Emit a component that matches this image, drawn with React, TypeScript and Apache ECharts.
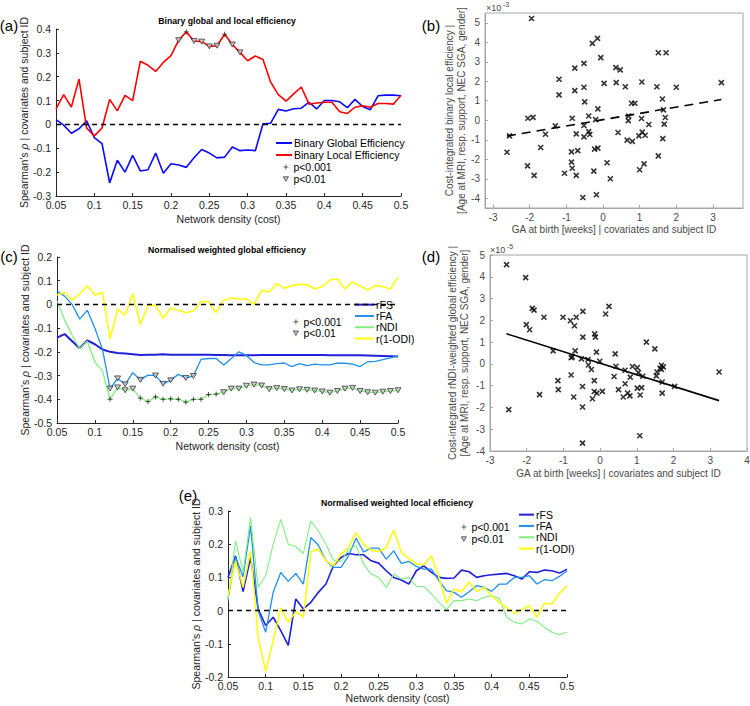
import React, { useEffect, useRef } from 'react';
import * as echarts from 'echarts';

const FF = "'Liberation Sans', Arial, Helvetica, sans-serif";

// network density (cost) categories
const density = [0.05,0.06,0.07,0.08,0.09,0.1,0.11,0.12,0.13,0.14,0.15,0.16,0.17,0.18,0.19,0.2,0.21,0.22,0.23,0.24,0.25,0.26,0.27,0.28,0.29,0.3,0.31,0.32,0.33,0.34,0.35,0.36,0.37,0.38,0.39,0.4,0.41,0.42,0.43,0.44,0.45,0.46,0.47,0.48,0.49,0.5];

// (a) binary global / local efficiency
const aGlobal = [0.02,-0.003,-0.037,-0.018,0.015,-0.055,-0.08,-0.245,-0.15,-0.2,-0.13,-0.195,-0.19,-0.12,-0.205,-0.165,-0.17,-0.18,-0.14,-0.105,-0.12,-0.14,-0.137,-0.095,-0.11,-0.107,-0.11,0.003,0.005,0.063,0.056,0.066,0.068,0.093,0.065,0.1,0.1,0.095,0.07,0.105,0.075,0.062,0.12,0.123,0.123,0.12];
const aLocal = [0.065,0.125,0.073,0.19,-0.015,-0.048,-0.015,0.105,0.057,0.122,0.1,0.265,0.248,0.222,0.26,0.288,0.353,0.388,0.35,0.347,0.327,0.33,0.378,0.335,0.302,0.267,0.287,0.272,0.177,0.125,0.098,0.128,0.157,0.085,0.09,0.093,0.093,0.053,0.046,0.072,0.078,0.072,0.088,0.088,0.085,0.122];
const aLocalP001 = [0.22,0.27];
const aLocalP01 = [0.21,0.23,0.24,0.25,0.26,0.28,0.29];

// (c) normalised weighted global efficiency
const cFS = [-0.14,-0.125,-0.155,-0.185,-0.152,-0.168,-0.19,-0.2,-0.205,-0.207,-0.21,-0.213,-0.212,-0.212,-0.21,-0.212,-0.212,-0.212,-0.212,-0.212,-0.212,-0.213,-0.213,-0.214,-0.214,-0.214,-0.214,-0.213,-0.213,-0.213,-0.213,-0.213,-0.213,-0.213,-0.213,-0.213,-0.214,-0.214,-0.214,-0.214,-0.214,-0.215,-0.216,-0.217,-0.218,-0.22];
const cFA = [0.057,0.035,0.0,-0.062,-0.025,-0.1,-0.19,-0.355,-0.312,-0.337,-0.288,-0.318,-0.298,-0.3,-0.335,-0.32,-0.295,-0.31,-0.302,-0.232,-0.228,-0.228,-0.255,-0.228,-0.2,-0.215,-0.245,-0.255,-0.255,-0.25,-0.247,-0.262,-0.25,-0.258,-0.252,-0.255,-0.255,-0.248,-0.248,-0.252,-0.262,-0.242,-0.24,-0.233,-0.225,-0.217];
const cNDI = [0.015,-0.065,-0.13,-0.187,-0.155,-0.243,-0.28,-0.4,-0.35,-0.362,-0.355,-0.395,-0.41,-0.39,-0.4,-0.398,-0.4,-0.412,-0.4,-0.4,-0.38,-0.378,-0.37,-0.355,-0.355,-0.343,-0.338,-0.342,-0.357,-0.353,-0.357,-0.363,-0.358,-0.36,-0.363,-0.367,-0.372,-0.365,-0.355,-0.352,-0.365,-0.37,-0.372,-0.368,-0.365,-0.362];
const cODI = [0.04,0.05,0.018,0.045,0.078,0.04,0.05,-0.145,-0.02,-0.045,0.045,-0.085,-0.005,-0.003,-0.058,-0.015,-0.025,-0.035,-0.028,0.012,0.012,-0.035,0.017,0.027,0.023,0.023,0.0,0.06,0.052,0.088,0.068,0.08,0.085,0.083,0.066,0.074,0.103,0.107,0.065,0.095,0.078,0.06,0.08,0.075,0.065,0.115];
const cFAP01 = [0.12,0.13,0.14,0.16,0.18,0.19,0.2,0.22,0.23];
const cNDIP001 = [0.12,0.16,0.17,0.18,0.19,0.2,0.21,0.22,0.23,0.24,0.25,0.26];
const cNDIP01 = [0.13,0.14,0.15,0.27,0.28,0.29,0.3,0.31,0.32,0.33,0.34,0.35,0.36,0.37,0.38,0.39,0.4,0.41,0.42,0.43,0.44,0.45,0.46,0.47,0.48,0.49,0.5];

// (e) normalised weighted local efficiency
const eFS = [0.1,0.165,0.057,0.16,0.005,-0.045,-0.02,-0.06,-0.105,0.035,0.005,0.025,0.055,0.08,0.135,0.16,0.172,0.168,0.168,0.15,0.143,0.12,0.1,0.092,0.08,0.12,0.135,0.115,0.1,0.097,0.098,0.122,0.117,0.1,0.105,0.108,0.11,0.112,0.105,0.095,0.117,0.115,0.122,0.12,0.113,0.125];
const eFA = [0.035,0.162,0.102,0.255,0.0,-0.065,0.055,0.115,0.088,0.112,0.08,0.22,0.197,0.15,0.13,0.13,0.165,0.218,0.177,0.188,0.188,0.155,0.18,0.142,0.148,0.133,0.125,0.125,0.09,0.06,0.055,0.04,0.057,0.075,0.07,0.058,0.08,0.08,0.1,0.1,0.105,0.08,0.093,0.09,0.103,0.12];
const eNDI = [0.03,0.21,0.115,0.28,0.07,0.105,0.2,0.275,0.2,0.193,0.172,0.27,0.24,0.2,0.152,0.148,0.185,0.195,0.14,0.11,0.1,0.07,0.11,0.095,0.1,0.073,0.072,0.05,0.025,0.003,0.03,0.03,0.035,0.03,0.04,0.045,0.037,-0.02,-0.035,-0.04,-0.025,-0.032,-0.05,-0.065,-0.073,-0.065];
const eODI = [0.045,0.15,0.07,0.18,-0.08,-0.183,-0.09,0.008,-0.035,-0.003,-0.02,0.178,0.185,0.15,0.135,0.17,0.19,0.235,0.2,0.182,0.178,0.19,0.243,0.175,0.158,0.14,0.138,0.165,0.1,0.022,0.065,0.057,0.087,0.058,0.07,0.045,0.025,0.008,-0.008,0.003,0.015,-0.02,0.022,0.02,0.052,0.075];

// (b) scatter: GA at birth vs cost-integrated binary local efficiency (x1e-3)
const bX = [-1.95,-0.29,-0.15,-0.77,-0.52,-0.06,-1.2,-1.2,-0.77,-0.52,0.03,0.36,0.35,0.47,0.61,1.06,1.51,1.72,1.47,2.0,3.23,1.62,1.65,1.7,1.67,1.63,1.51,0.78,0.87,0.7,0.69,1.05,1.25,0.41,0.66,0.8,0.98,1.07,1.15,1.12,1.0,0.11,0.2,-0.5,-0.14,-0.39,-0.2,-0.52,-0.84,-1.3,-0.73,-0.39,-0.36,-0.52,-0.14,-0.23,-0.69,-0.86,-0.86,-0.84,-0.73,-1.05,-0.25,-0.55,-0.18,-1.7,-2.05,-1.91,-1.57,-2.55,-2.62,-2.06,-1.88];
const bY = [5.22,3.94,4.2,2.67,2.92,3.21,2.1,1.3,1.52,1.69,1.89,1.93,2.7,2.58,1.72,1.96,3.46,3.46,1.72,1.69,1.93,1.09,0.53,0.14,-0.2,-0.94,-1.83,0.87,0.87,0.22,-0.02,0.09,-0.22,-0.63,-1.02,-1.08,-0.8,-0.61,-0.77,-2.24,-2.54,-2.18,-3.0,0.94,0.58,0.22,0.03,-0.27,0.1,-0.29,-0.7,-0.58,-0.73,-0.85,-1.43,-1.48,-1.56,-1.62,-2.15,-2.46,-2.83,-2.72,-2.61,-3.96,-3.82,-1.4,0.1,0.15,-0.72,-0.8,-1.64,-2.34,-2.83];
const bFitSlope = 0.32;
const bFitIntercept = 0.03;

// (d) scatter: GA at birth vs cost-integrated rNDI-weighted global efficiency (x1e-5)
const dX = [-2.55,-2.03,-1.85,-1.8,-1.53,-2.01,-1.92,-2.49,-1.65,-1.28,-1.01,-0.81,-0.65,-0.7,-0.47,-0.47,-0.68,-0.79,-0.76,-0.51,-0.33,-0.32,-0.24,-0.15,-0.13,-0.1,-0.01,-0.16,-0.79,-1.15,-1.14,-0.72,-0.48,-0.48,-0.48,-0.16,-0.09,-0.21,0.06,0.15,0.24,0.41,0.43,0.38,0.5,0.63,0.68,0.68,0.75,0.81,0.82,0.88,1.01,1.04,1.01,1.13,1.09,1.16,1.08,1.26,1.49,1.55,1.53,1.63,1.67,1.72,1.67,1.69,1.69,2.03,3.24];
const dY = [4.56,3.96,2.55,2.47,2.14,1.8,1.57,-2.1,-1.41,0.6,2.14,1.98,2.14,1.75,2.41,1.23,0.6,0.28,0.32,0.23,0.2,-0.05,-0.26,1.38,1.23,0.54,0.12,-0.77,-0.51,-0.77,-1.18,-1.52,-1.04,-1.98,-3.64,-1.27,-1.34,-1.6,-1.26,2.29,2.64,0.46,-0.11,-0.58,-1.18,-1.52,-0.29,-0.91,-1.34,-1.47,-0.61,-0.12,-0.17,-0.4,-1.11,-1.09,-1.43,-0.57,-3.3,1.0,0.69,-0.37,-0.55,-0.2,-0.06,-0.14,-0.26,-0.83,-1.34,-1.03,-0.37];
const dFitSlope = -0.53;
const dFitIntercept = 0.03;

const lineTicksB = [-3,-2,-1,0,1,2,3];
const yTicksB = [-4,-3,-2,-1,0,1,2,3,4,5];

const PLUS = 'path://M5,0L5,10M0,5L10,5';
const TRI = 'path://M0,0L10,0L5,9Z';
const CROSS = 'path://M0,0L10,10M10,0L0,10';

const COL = {
  blue: '#0a0aff', red: '#ff0000', fs: '#2020dc', fa: '#1f8ff2', ndi: '#80f080', odi: '#ffff00'
};

const pairs = (vals: number[]) => vals.map((v, i) => [density[i], v]);
const pick = (xs: number[], vals: number[]) =>
  xs.map((x) => {
    const i = density.findIndex((d) => Math.abs(d - x) < 1e-9);
    return [x, vals[i]];
  });
const zip = (xs: number[], ys: number[]) => xs.map((x, i) => [x, ys[i]]);
const fitLine = (xs: number[], slope: number, icpt: number) => {
  const lo = Math.min(...xs), hi = Math.max(...xs);
  return [[lo, slope * lo + icpt], [hi, slope * hi + icpt]];
};

const AX = '#262626';
const SPEAR = "Spearman's {i|ρ} | covariates and subject ID";

function densityAxis(gridIndex: number, gap: number) {
  return {
    type: 'value', gridIndex, min: 0.05, max: 0.5, interval: 0.05,
    name: 'Network density (cost)', nameLocation: 'middle', nameGap: gap,
    nameTextStyle: { fontSize: 10.5, color: AX, fontFamily: FF },
    axisLine: { onZero: false, lineStyle: { color: AX, width: 1 } },
    axisTick: { inside: true, length: 3, lineStyle: { color: AX } },
    axisLabel: { fontSize: 10.5, color: AX, fontFamily: FF, margin: 3 },
    splitLine: { show: false },
  };
}
function rhoAxis(gridIndex: number, min: number, max: number, gap: number) {
  return {
    type: 'value', gridIndex, min, max, interval: 0.1,
    name: SPEAR, nameLocation: 'middle', nameGap: gap,
    nameTextStyle: {
      fontSize: 10.5, color: AX, fontFamily: FF,
      rich: { i: { fontSize: 10.5, color: AX, fontFamily: FF, fontStyle: 'italic' } },
    },
    axisLine: { onZero: false, lineStyle: { color: AX, width: 1 } },
    axisTick: { inside: true, length: 3, lineStyle: { color: AX } },
    axisLabel: { fontSize: 10.5, color: AX, fontFamily: FF, margin: 5 },
    splitLine: { show: false },
  };
}
const BOX = '#a6a6a6';
const LBL = '#4a4a4a';
function scatterAxis(gridIndex: number, min: number, max: number, ticks: number[] | null, name: string, gap: number, vertical: boolean) {
  const ax: any = {
    type: 'value', gridIndex, min, max,
    name, nameLocation: 'middle', nameGap: gap,
    nameTextStyle: { fontSize: 10, color: LBL, fontFamily: FF, lineHeight: 12 },
    axisLine: { onZero: false, lineStyle: { color: BOX, width: 1 } },
    axisTick: { inside: true, length: 3, lineStyle: { color: BOX } },
    axisLabel: { fontSize: 10, color: LBL, fontFamily: FF, margin: vertical ? 5 : 4 },
    splitLine: { show: false },
  };
  if (ticks) {
    ax.axisLabel.customValues = ticks;
    ax.axisTick.customValues = ticks;
  } else {
    ax.interval = 1;
  }
  return ax;
}

function zeroLine() {
  return {
    silent: true, symbol: ['none', 'none'],
    label: { show: false },
    lineStyle: { type: [5, 4], color: '#000', width: 1.4 },
    data: [{ yAxis: 0 }],
  };
}

function lineSeries(name: string, vals: number[], color: string, width: number, g: number, extra: any = {}) {
  return {
    type: 'line', name, xAxisIndex: g, yAxisIndex: g, data: pairs(vals),
    symbol: 'none', lineStyle: { color, width }, itemStyle: { color },
    emphasis: { disabled: true }, z: 3, ...extra,
  };
}
function markerSeries(name: string, data: number[][], g: number, kind: 'plus' | 'tri') {
  return {
    type: 'scatter', name, xAxisIndex: g, yAxisIndex: g, data,
    symbol: kind === 'plus' ? PLUS : TRI,
    symbolSize: kind === 'plus' ? [5, 5] : [6, 5],
    itemStyle: kind === 'plus'
      ? { color: 'rgba(0,0,0,0)', borderColor: '#111', borderWidth: 0.9 }
      : { color: '#c4c4c4', borderColor: '#111', borderWidth: 0.8 },
    emphasis: { disabled: true }, z: 5,
  };
}

function txt(text: string, x: number, y: number, font: string, align = 'center', fill = '#000') {
  return { type: 'text', x, y, silent: true, style: { text, font, fill, align, verticalAlign: 'middle' } };
}

const lineLegend = (left: number, top: number, names: string[], width: number, lh: number, bg = 'transparent') => ({
  left, top, orient: 'vertical', itemWidth: width, itemHeight: 2, itemGap: 0, padding: [0, 2, 0, 0],
  backgroundColor: bg,
  data: names.map((n) => ({ name: n, icon: 'rect' })), selectedMode: false,
  textStyle: { fontSize: 10.5, color: '#000', fontFamily: FF, lineHeight: lh, padding: [0, 0, 0, -3] },
});
const pLegend = (left: number, top: number, lh: number) => ({
  left, top, orient: 'vertical', itemWidth: 5, itemHeight: 5, itemGap: 0, padding: 0,
  selectedMode: false,
  data: [{ name: 'p<0.001', icon: PLUS }, { name: 'p<0.01', icon: TRI }],
  itemStyle: { borderWidth: 0.8 },
  textStyle: { fontSize: 10.5, color: '#000', fontFamily: FF, lineHeight: lh },
});

export default function App() {
  const ref = useRef<HTMLDivElement>(null);
  useEffect(() => {
    if (!ref.current) return;
    const chart = echarts.init(ref.current, undefined, { renderer: 'svg' });
    const option: any = {
      animation: false,
      backgroundColor: '#fff',
      textStyle: { fontFamily: FF },
      grid: [
        { left: 56, top: 29, width: 345, height: 167, containLabel: false, outerBoundsMode: 'none' },
        { left: 485, top: 13, width: 258, height: 195, containLabel: false, outerBoundsMode: 'none', show: true, borderColor: BOX, borderWidth: 1, backgroundColor: 'transparent' },
        { left: 57, top: 257, width: 341, height: 166, containLabel: false, outerBoundsMode: 'none' },
        { left: 490, top: 255, width: 257, height: 196, containLabel: false, outerBoundsMode: 'none', show: true, borderColor: BOX, borderWidth: 1, backgroundColor: 'transparent' },
        { left: 228, top: 511, width: 339, height: 166, containLabel: false, outerBoundsMode: 'none' },
      ],
      xAxis: [
        densityAxis(0, 17),
        scatterAxis(1, -3.22, 3.82, lineTicksB, 'GA at birth [weeks] | covariates and subject ID', 15, false),
        densityAxis(2, 17),
        scatterAxis(3, -3, 4, null, 'GA at birth [weeks] | covariates and subject ID', 16, false),
        densityAxis(4, 15),
      ],
      yAxis: [
        rhoAxis(0, -0.3, 0.4, 22),
        scatterAxis(1, -4.5, 5.5, yTicksB, 'Cost-integrated binary local efficiency |\n[Age at MRI, resp. support, NEC SGA, gender]', 17, true),
        rhoAxis(2, -0.5, 0.2, 23),
        scatterAxis(3, -4, 5, null, 'Cost-integrated rNDI-weighted global efficiency |\n[Age at MRI, resp. support, NEC SGA, gender]', 20, true),
        rhoAxis(4, -0.2, 0.3, 20),
      ],
      legend: [
        lineLegend(276, 137, ['Binary Global Efficiency', 'Binary Local Efficiency'], 16, 12),
        pLegend(283, 161, 12),
        lineLegend(355, 299, ['rFS', 'rFA', 'rNDI', 'r(1-ODI)'], 19, 11.3, '#fff'),
        pLegend(293, 316, 11.5),
        lineLegend(519, 509, ['rFS', 'rFA', 'rNDI', 'r(1-ODI)'], 15, 11.3),
        pLegend(461, 521, 12),
      ],
      graphic: [
        txt('(a)', 9, 25, `15px ${FF}`),
        txt('(b)', 431, 25, `15px ${FF}`),
        txt('(c)', 9, 256, `15px ${FF}`),
        txt('(d)', 431, 256, `15px ${FF}`),
        txt('(e)', 188, 495, `15px ${FF}`),
        txt('Binary global and local efficiency', 227, 21, `bold 8.7px ${FF}`),
        txt('Normalised weighted global efficiency', 227, 250, `bold 8.7px ${FF}`),
        txt('Normalised weighted local efficiency', 397, 503, `bold 8.7px ${FF}`),
        txt('×10', 486, 8, `9px ${FF}`, 'left', LBL),
        txt('-3', 503, 4, `7px ${FF}`, 'left', LBL),
        txt('×10', 490, 250, `9px ${FF}`, 'left', LBL),
        txt('-5', 507, 246, `7px ${FF}`, 'left', LBL),
      ],
      series: [
        // (a)
        lineSeries('Binary Global Efficiency', aGlobal, COL.blue, 1.6, 0, { markLine: zeroLine() }),
        lineSeries('Binary Local Efficiency', aLocal, COL.red, 1.6, 0),
        markerSeries('p<0.001', pick(aLocalP001, aLocal), 0, 'plus'),
        markerSeries('p<0.01', pick(aLocalP01, aLocal), 0, 'tri'),
        // (b)
        {
          type: 'scatter', name: 'b-points', xAxisIndex: 1, yAxisIndex: 1, data: zip(bX, bY),
          symbol: CROSS, symbolSize: 5,
          itemStyle: { color: 'rgba(0,0,0,0)', borderColor: '#000', borderWidth: 1.6 },
          emphasis: { disabled: true },
        },
        {
          type: 'line', name: 'b-fit', xAxisIndex: 1, yAxisIndex: 1, data: fitLine(bX, bFitSlope, bFitIntercept),
          symbol: 'none', lineStyle: { color: '#000', width: 1.6, type: [9, 6] }, emphasis: { disabled: true },
        },
        // (c)
        lineSeries('rFS', cFS, COL.fs, 2, 2, { markLine: zeroLine() }),
        lineSeries('rFA', cFA, COL.fa, 1.3, 2),
        lineSeries('rNDI', cNDI, COL.ndi, 1.3, 2),
        lineSeries('r(1-ODI)', cODI, COL.odi, 1.5, 2),
        markerSeries('p<0.01', pick(cFAP01, cFA), 2, 'tri'),
        markerSeries('p<0.001', pick(cNDIP001, cNDI), 2, 'plus'),
        markerSeries('p<0.01', pick(cNDIP01, cNDI), 2, 'tri'),
        // (d)
        {
          type: 'scatter', name: 'd-points', xAxisIndex: 3, yAxisIndex: 3, data: zip(dX, dY),
          symbol: CROSS, symbolSize: 5,
          itemStyle: { color: 'rgba(0,0,0,0)', borderColor: '#000', borderWidth: 1.6 },
          emphasis: { disabled: true },
        },
        {
          type: 'line', name: 'd-fit', xAxisIndex: 3, yAxisIndex: 3, data: fitLine(dX, dFitSlope, dFitIntercept),
          symbol: 'none', lineStyle: { color: '#000', width: 1.6 }, emphasis: { disabled: true },
        },
        // (e)
        lineSeries('rFS', eFS, COL.fs, 1.6, 4, { markLine: zeroLine() }),
        lineSeries('rFA', eFA, COL.fa, 1.3, 4),
        lineSeries('rNDI', eNDI, COL.ndi, 1.1, 4),
        lineSeries('r(1-ODI)', eODI, COL.odi, 1.5, 4),
      ],
    };
    chart.setOption(option);
    return () => chart.dispose();
  }, []);
  return <div ref={ref} style={{ position: 'fixed', left: 0, top: 0, width: 750, height: 706 }} />;
}
